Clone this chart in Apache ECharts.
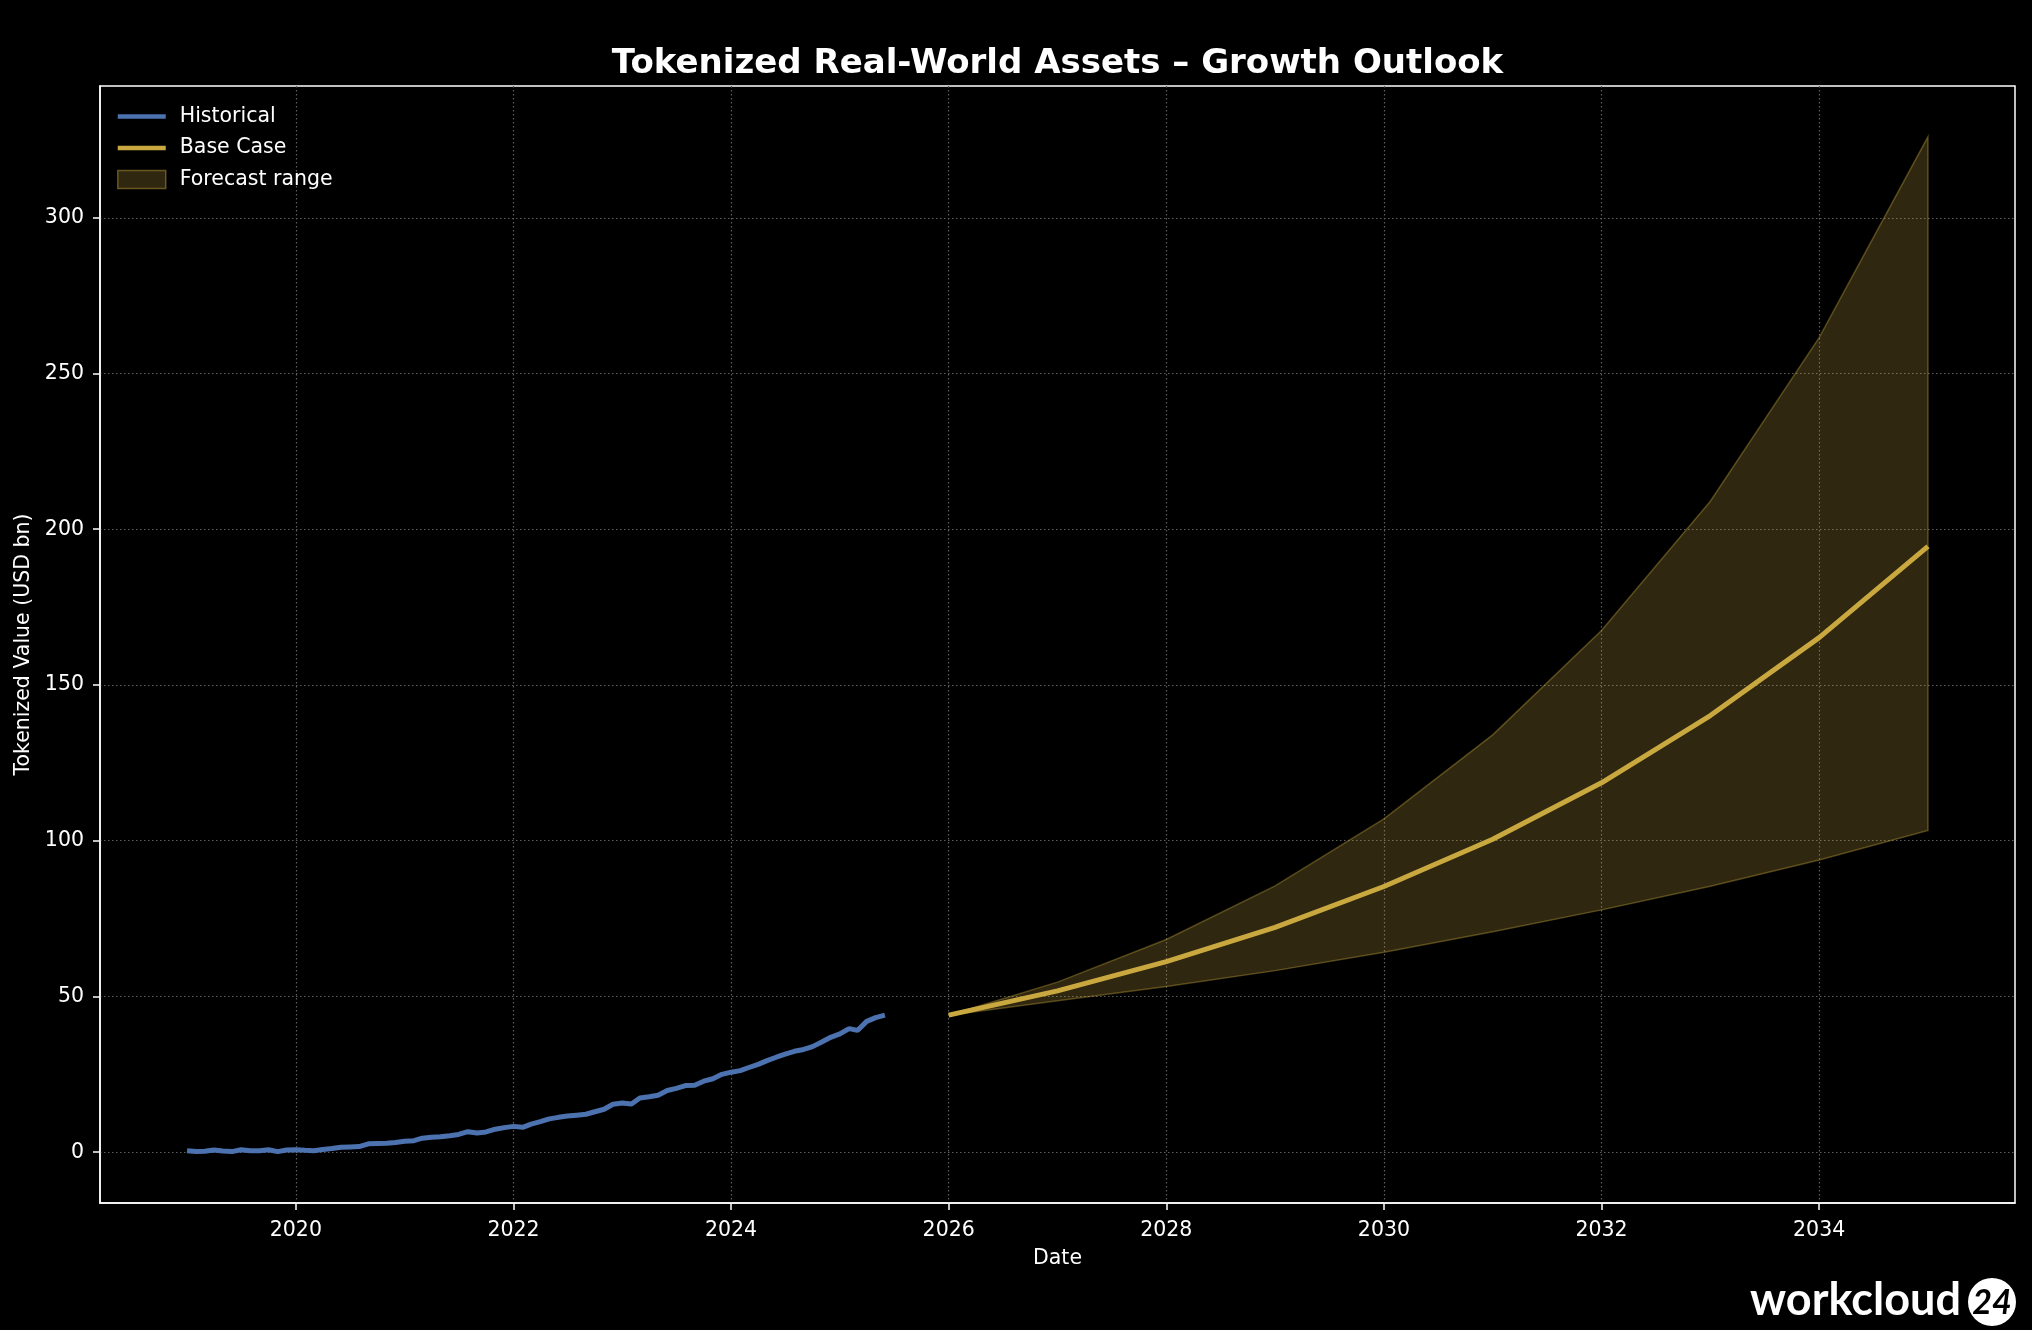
<!DOCTYPE html>
<html><head><meta charset="utf-8">
<script src="https://cdn.jsdelivr.net/npm/echarts@6/dist/echarts.min.js"></script>
<style>html,body{margin:0;padding:0;background:#000;}#c{width:2032px;height:1330px;}</style>
</head><body><div id="c"></div>
<script>
// ---- data ----
const histStartYear = 2019, histStartMonth = 1; // monthly, Jan 2019 .. Jun 2025
const histValues = [
  0.5,0.2,0.3,0.7,0.4,0.2,0.8,0.5,0.5,0.8,0.2,0.7,
  0.8,0.6,0.5,0.9,1.2,1.6,1.7,1.8,2.7,2.8,2.9,3.1,
  3.5,3.7,4.5,4.8,5.0,5.3,5.7,6.6,6.2,6.5,7.4,7.9,
  8.3,8.0,9.0,9.8,10.7,11.2,11.6,11.9,12.2,13.0,13.8,15.4,
  15.8,15.5,17.4,17.8,18.3,19.8,20.5,21.4,21.5,22.8,23.6,25.0,
  25.7,26.2,27.2,28.2,29.4,30.5,31.5,32.4,33.0,33.9,35.4,36.9,
  38.0,39.7,39.1,42.0,43.2,44.0
];
const forecastYears = [2026,2027,2028,2029,2030,2031,2032,2033,2034,2035];
const baseCase   = [44, 51.8, 61.2, 72.2, 85.3, 100.5, 118.6, 140.2, 165.2, 194.5];
const upperBound = [44, 54.6, 68.3, 85.5, 107.0, 134.0, 167.5, 209.0, 261.5, 326.0];
const lowerBound = [44, 48.6, 53.2, 58.3, 64.2, 70.8, 77.8, 85.4, 93.8, 103.3];
const xTickYears = [2020,2022,2024,2026,2028,2030,2032,2034];
const yTickValues = [0,50,100,150,200,250,300];

// ---- helpers ----
function decYear(y, m) {
  const a = Date.UTC(y, m - 1, 1), s = Date.UTC(y, 0, 1), e = Date.UTC(y + 1, 0, 1);
  return y + (a - s) / (e - s);
}
const histData = histValues.map((v, i) => {
  const mm = histStartMonth - 1 + i;
  return [decYear(histStartYear + Math.floor(mm / 12), (mm % 12) + 1), v];
});
const baseData = forecastYears.map((y, i) => [y, baseCase[i]]);
const bandData = forecastYears.map((y, i) => [y, lowerBound[i], upperBound[i]]);

const FONT = 'DejaVu Sans';
const GOLD = '#c9a83f';
const BLUE = '#4c72b0';
const BAND_FILL = 'rgba(201,168,63,0.23)';
const BAND_EDGE = 'rgba(201,168,63,0.38)';
const gridLine = { show: true, lineStyle: { color: '#5e5e5e', width: 1.2, type: [1.5, 2.5] } };

const chart = echarts.init(document.getElementById('c'), null, { renderer: 'canvas' });
chart.setOption({
  backgroundColor: '#000',
  animation: false,
  title: {
    text: 'Tokenized Real-World Assets \u2013 Growth Outlook',
    left: 1057.5, top: 47, textAlign: 'center', padding: 0,
    textStyle: { color: '#fff', fontFamily: FONT, fontWeight: 'bold', fontSize: 34 }
  },
  legend: {
    orient: 'vertical', left: 117, top: 106, padding: 0,
    itemWidth: 48, itemHeight: 18, itemGap: 10.5,
    textStyle: { color: '#fff', fontFamily: FONT, fontSize: 20.5, padding: [0, 0, 0, 9] },
    data: [
      { name: 'Historical', icon: 'path://M0,0H48V4.5H0Z', itemStyle: { color: BLUE } },
      { name: 'Base Case', icon: 'path://M0,0H48V4.5H0Z', itemStyle: { color: GOLD } },
      { name: 'Forecast range', icon: 'rect',
        itemStyle: { color: BAND_FILL, borderColor: 'rgba(201,168,63,0.45)', borderWidth: 1.5 } }
    ]
  },
  grid: { left: 100, right: 17, top: 86, bottom: 127, containLabel: false,
          show: true, borderColor: '#fff', borderWidth: 1.5, backgroundColor: '#000' },
  xAxis: {
    type: 'value', min: 2018.2, max: 2035.8,
    name: 'Date', nameLocation: 'middle', nameGap: 45,
    nameTextStyle: { color: '#fff', fontFamily: FONT, fontSize: 20.5 },
    axisLine: { show: true, onZero: false, lineStyle: { color: '#fff', width: 1.5 } },
    axisTick: { show: true, length: 7, lineStyle: { color: '#fff', width: 1.5 }, customValues: xTickYears },
    axisLabel: { color: '#fff', fontFamily: FONT, fontSize: 20.5, margin: 17,
                 customValues: xTickYears, formatter: v => String(Math.round(v)) },
    splitLine: gridLine
  },
  yAxis: {
    type: 'value', min: -16.3, max: 342.3,
    name: 'Tokenized Value (USD bn)', nameLocation: 'middle', nameGap: 66,
    nameTextStyle: { color: '#fff', fontFamily: FONT, fontSize: 20.5 },
    axisLine: { show: true, onZero: false, lineStyle: { color: '#fff', width: 1.5 } },
    axisTick: { show: true, length: 7, lineStyle: { color: '#fff', width: 1.5 }, customValues: yTickValues },
    axisLabel: { color: '#fff', fontFamily: FONT, fontSize: 20.5, margin: 16,
                 customValues: yTickValues, formatter: v => String(Math.round(v)) },
    splitLine: gridLine
  },
  series: [
    { name: 'Forecast range', type: 'custom', z: 2, data: bandData,
      color: BAND_FILL,
      encode: { x: 0, y: [1, 2] },
      renderItem: function (params, api) {
        if (params.dataIndex !== 0) return null;
        const pts = [];
        for (let i = 0; i < bandData.length; i++) pts.push(api.coord([bandData[i][0], bandData[i][2]]));
        for (let i = bandData.length - 1; i >= 0; i--) pts.push(api.coord([bandData[i][0], bandData[i][1]]));
        return { type: 'polygon', shape: { points: pts },
                 style: { fill: BAND_FILL, stroke: BAND_EDGE, lineWidth: 1.5 } };
      }
    },
    { name: 'Historical', type: 'line', data: histData, symbol: 'none', z: 5,
      color: BLUE, lineStyle: { color: BLUE, width: 5 } },
    { name: 'Base Case', type: 'line', data: baseData, symbol: 'none', z: 6,
      color: GOLD, lineStyle: { color: GOLD, width: 5 } }
  ],
  graphic: [
    { type: 'text', right: 71, bottom: 7, z: 100,
      style: { text: 'workcloud', fill: '#fff', font: 'bold 45px Lato' } },
    { type: 'circle', shape: { cx: 1992, cy: 1302, r: 24 }, z: 100, style: { fill: '#fff' } },
    { type: 'text', x: 1992, y: 1303, z: 101,
      style: { text: '24', fill: '#000', font: 'italic bold 34px Lato', align: 'center', verticalAlign: 'middle' } }
  ]
});
</script>
</body></html>
